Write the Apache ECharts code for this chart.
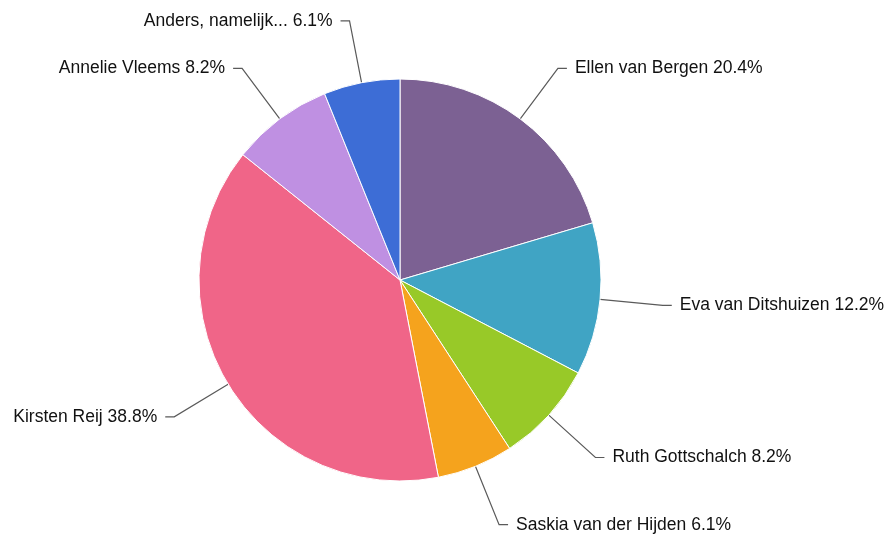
<!DOCTYPE html>
<html>
<head>
<meta charset="utf-8">
<script src="https://cdn.jsdelivr.net/npm/echarts@6/dist/echarts.min.js"></script>
<style>
  html, body { margin: 0; padding: 0; background: #fff; }
  #chart { width: 891px; height: 539px; }
</style>
</head>
<body>
<div id="chart"></div>
<script>
// namen en aantallen (percentages volgen uit het totaal)
var names = [
  "Ellen van Bergen",
  "Eva van Ditshuizen",
  "Ruth Gottschalch",
  "Saskia van der Hijden",
  "Kirsten Reij",
  "Annelie Vleems",
  "Anders, namelijk..."
];
var counts = [10, 6, 4, 3, 19, 4, 3];
var colors = ["#7c6193", "#40a4c4", "#98c928", "#f5a31d", "#f06588", "#bf90e2", "#3d6dd6"];

var chart = echarts.init(document.getElementById("chart"));

var option = {
  animation: false,
  color: colors,
  series: [
    {
      type: "pie",
      center: [400, 280],
      radius: [0, 201],
      startAngle: 90,
      clockwise: true,
      percentPrecision: 1,
      avoidLabelOverlap: false,
      itemStyle: { borderColor: "#fff", borderWidth: 1 },
      label: {
        formatter: "{b} {d}%",
        color: "#111",
        fontFamily: "Liberation Sans, Arial, sans-serif",
        fontSize: 17.5,
        distanceToLabelLine: 8
      },
      labelLine: {
        length: 63,
        length2: 9,
        lineStyle: { color: "#5a5a5a", width: 1.2 }
      },
      data: names.map(function (n, i) {
        return { name: n, value: counts[i] };
      })
    }
  ]
};

chart.setOption(option);
</script>
</body>
</html>
